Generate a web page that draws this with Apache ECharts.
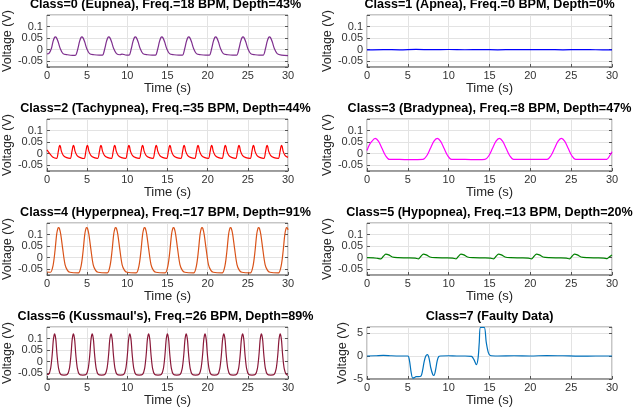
<!DOCTYPE html>
<html>
<head>
<meta charset="utf-8">
<script src="https://cdn.jsdelivr.net/npm/echarts@6/dist/echarts.min.js"></script>
<style>
html,body{margin:0;padding:0;background:#fff;}
#chart{width:640px;height:412px;}
</style>
</head>
<body>
<div id="chart"></div>
<script>
// ---- Data ----
const titles = [
  "Class=0 (Eupnea), Freq.=18 BPM, Depth=43%",
  "Class=1 (Apnea), Freq.=0 BPM, Depth=0%",
  "Class=2 (Tachypnea), Freq.=35 BPM, Depth=44%",
  "Class=3 (Bradypnea), Freq.=8 BPM, Depth=47%",
  "Class=4 (Hyperpnea), Freq.=17 BPM, Depth=91%",
  "Class=5 (Hypopnea), Freq.=13 BPM, Depth=20%",
  "Class=6 (Kussmaul's), Freq.=26 BPM, Depth=89%",
  "Class=7 (Faulty Data)"
];
const xTicks = [0, 5, 10, 15, 20, 25, 30];
const yTicksSmall = [-0.05, 0, 0.05, 0.1];
const yTicksFaulty = [-5, 0, 5];
const xLabel = "Time (s)";
const yLabel = "Voltage (V)";

const eupnea = [[0,-0.018],[0.25,-0.016],[0.55,0.005],[0.75,0.035],[0.93,0.052],[1.05,0.055],[1.17,0.052],[1.4,0.033],[1.65,0.005],[2.0,-0.017],[2.55,-0.022],[3.2,-0.025],
 [3.55,-0.024],[3.85,0.005],[4.05,0.035],[4.23,0.052],[4.35,0.055],[4.47,0.052],[4.7,0.033],[4.95,0.005],[5.3,-0.017],[5.85,-0.022],[6.5,-0.024],
 [6.9,-0.024],[7.2,0.005],[7.4,0.035],[7.58,0.052],[7.7,0.055],[7.82,0.052],[8.05,0.033],[8.3,0.005],[8.65,-0.017],[9.1,-0.022],[9.35,-0.019],[9.75,-0.023],
 [10.2,-0.024],[10.5,0.005],[10.7,0.035],[10.88,0.052],[11.0,0.055],[11.12,0.052],[11.35,0.033],[11.6,0.005],[11.95,-0.017],[12.5,-0.022],[13.1,-0.024],
 [13.5,-0.024],[13.8,0.005],[14.0,0.035],[14.18,0.052],[14.3,0.055],[14.42,0.052],[14.65,0.033],[14.9,0.005],[15.25,-0.017],[15.8,-0.022],[16.4,-0.024],
 [16.85,-0.024],[17.15,0.005],[17.35,0.035],[17.53,0.052],[17.65,0.055],[17.77,0.052],[18.0,0.033],[18.25,0.005],[18.6,-0.017],[19.15,-0.022],[19.75,-0.024],
 [20.2,-0.024],[20.5,0.005],[20.7,0.035],[20.88,0.052],[21.0,0.055],[21.12,0.052],[21.35,0.033],[21.6,0.005],[21.95,-0.017],[22.5,-0.022],[23.1,-0.024],
 [23.6,-0.024],[23.9,0.005],[24.1,0.035],[24.28,0.052],[24.4,0.055],[24.52,0.052],[24.75,0.033],[25.0,0.005],[25.35,-0.017],[25.9,-0.022],[26.4,-0.024],
 [26.9,-0.024],[27.2,0.005],[27.4,0.035],[27.58,0.052],[27.7,0.055],[27.82,0.052],[28.05,0.033],[28.3,0.005],[28.65,-0.017],[29.2,-0.024],[30,-0.026]];

const apnea = [[0,-0.001],[2,0.0005],[4,-0.0005],[6,0.001],[8,0],[10,0.0008],[12,-0.0004],[14,0.0006],[16,-0.0008],[18,0.0004],[20,0],[22,0.0006],[24,-0.0006],[26,0.0005],[28,-0.0004],[30,-0.001]];

const tachypnea = [[0,0.016],[0.3,0.002],[0.7,-0.014],[1.2,-0.02],
 [1.4,0.008],[1.52,0.03],[1.6,0.036],[1.68,0.03],[1.8,0.01],[2.05,-0.008],[2.45,-0.017],[2.9,-0.02],
 [3.1,0.008],[3.22,0.03],[3.3,0.036],[3.38,0.03],[3.5,0.01],[3.75,-0.008],[4.15,-0.017],[4.63,-0.021],
 [4.83,0.008],[4.95,0.03],[5.03,0.036],[5.11,0.03],[5.23,0.01],[5.48,-0.008],[5.88,-0.017],[6.32,-0.02],
 [6.52,0.008],[6.64,0.03],[6.72,0.036],[6.8,0.03],[6.92,0.01],[7.17,-0.008],[7.57,-0.017],[8.03,-0.02],
 [8.23,0.008],[8.35,0.03],[8.43,0.036],[8.51,0.03],[8.63,0.01],[8.88,-0.008],[9.28,-0.017],[9.8,-0.02],
 [10.0,0.008],[10.12,0.03],[10.2,0.036],[10.28,0.03],[10.4,0.01],[10.65,-0.008],[11.05,-0.017],[11.5,-0.02],
 [11.7,0.008],[11.82,0.03],[11.9,0.036],[11.98,0.03],[12.1,0.01],[12.35,-0.008],[12.75,-0.017],[13.2,-0.02],
 [13.4,0.008],[13.52,0.03],[13.6,0.036],[13.68,0.03],[13.8,0.01],[14.05,-0.008],[14.45,-0.017],[14.9,-0.02],
 [15.1,0.008],[15.22,0.03],[15.3,0.036],[15.38,0.03],[15.5,0.01],[15.75,-0.008],[16.15,-0.017],[16.67,-0.02],
 [16.87,0.008],[16.99,0.03],[17.07,0.036],[17.15,0.03],[17.27,0.01],[17.52,-0.008],[17.92,-0.017],[18.4,-0.02],
 [18.6,0.008],[18.72,0.03],[18.8,0.036],[18.88,0.03],[19.0,0.01],[19.25,-0.008],[19.65,-0.017],[20.1,-0.02],
 [20.3,0.008],[20.42,0.03],[20.5,0.036],[20.58,0.03],[20.7,0.01],[20.95,-0.008],[21.35,-0.017],[21.8,-0.02],
 [22.0,0.008],[22.12,0.03],[22.2,0.036],[22.28,0.03],[22.4,0.01],[22.65,-0.008],[23.05,-0.017],[23.5,-0.02],
 [23.7,0.008],[23.82,0.03],[23.9,0.036],[23.98,0.03],[24.1,0.01],[24.35,-0.008],[24.75,-0.017],[25.3,-0.02],
 [25.5,0.008],[25.62,0.03],[25.7,0.036],[25.78,0.03],[25.9,0.01],[26.15,-0.008],[26.55,-0.017],[27.0,-0.02],
 [27.2,0.008],[27.32,0.03],[27.4,0.036],[27.48,0.03],[27.6,0.01],[27.85,-0.008],[28.25,-0.017],[28.8,-0.02],
 [29.0,0.008],[29.12,0.03],[29.2,0.036],[29.28,0.03],[29.4,0.01],[29.65,-0.008],[30,-0.016]];

const bradypnea = [[0,0.014],[0.25,0.035],[0.58,0.053],[1.0,0.066],[1.42,0.053],[1.85,0.022],[2.3,-0.01],[2.75,-0.025],[4.0,-0.025],[5.2,-0.026],[6.85,-0.025],
 [7.3,-0.01],[7.75,0.022],[8.18,0.053],[8.6,0.066],[9.02,0.053],[9.45,0.022],[9.9,-0.01],[10.35,-0.025],[12.0,-0.025],[13.5,-0.026],[14.45,-0.025],
 [14.9,-0.01],[15.35,0.022],[15.78,0.053],[16.2,0.066],[16.62,0.053],[17.05,0.022],[17.5,-0.01],[17.95,-0.025],[20.0,-0.025],[22.05,-0.025],
 [22.5,-0.01],[22.95,0.022],[23.38,0.053],[23.8,0.066],[24.22,0.053],[24.65,0.022],[25.1,-0.01],[25.55,-0.025],[27.5,-0.025],[29.35,-0.025],[29.7,-0.01],[30,0.008]];

const hyperpnea = [[0,-0.062],[0.45,-0.063],[0.75,-0.035],[1.0,0.03],[1.2,0.1],[1.35,0.126],[1.45,0.13],[1.55,0.126],[1.72,0.1],[1.95,0.04],[2.25,-0.03],[2.55,-0.055],[2.85,-0.063],[3.9,-0.066],
 [4.25,-0.035],[4.5,0.03],[4.7,0.1],[4.85,0.126],[4.95,0.13],[5.05,0.126],[5.22,0.1],[5.45,0.04],[5.75,-0.03],[6.05,-0.055],[6.35,-0.063],[7.5,-0.066],
 [7.85,-0.035],[8.1,0.03],[8.3,0.1],[8.45,0.126],[8.55,0.13],[8.65,0.126],[8.82,0.1],[9.05,0.04],[9.35,-0.03],[9.65,-0.055],[9.95,-0.063],[11.1,-0.066],
 [11.45,-0.035],[11.7,0.03],[11.9,0.1],[12.05,0.126],[12.15,0.13],[12.25,0.126],[12.42,0.1],[12.65,0.04],[12.95,-0.03],[13.25,-0.055],[13.55,-0.063],[14.7,-0.066],
 [15.05,-0.035],[15.3,0.03],[15.5,0.1],[15.65,0.126],[15.75,0.13],[15.85,0.126],[16.02,0.1],[16.25,0.04],[16.55,-0.03],[16.85,-0.055],[17.15,-0.063],[18.25,-0.066],
 [18.6,-0.035],[18.85,0.03],[19.05,0.1],[19.2,0.126],[19.3,0.13],[19.4,0.126],[19.57,0.1],[19.8,0.04],[20.1,-0.03],[20.4,-0.055],[20.7,-0.063],[21.8,-0.066],
 [22.15,-0.035],[22.4,0.03],[22.6,0.1],[22.75,0.126],[22.85,0.13],[22.95,0.126],[23.12,0.1],[23.35,0.04],[23.65,-0.03],[23.95,-0.055],[24.25,-0.063],[25.3,-0.066],
 [25.65,-0.035],[25.9,0.03],[26.1,0.1],[26.25,0.126],[26.35,0.13],[26.45,0.126],[26.62,0.1],[26.85,0.04],[27.15,-0.03],[27.45,-0.055],[27.75,-0.063],[28.8,-0.066],
 [29.15,-0.035],[29.4,0.03],[29.6,0.1],[29.75,0.126],[29.85,0.13],[29.95,0.126],[30,0.12]];

const hypopnea = [[0,0.0],[0.8,-0.001],[1.3,-0.003],[1.7,-0.005],[2.0,0.006],[2.3,0.015],[2.65,0.012],[3.1,0.003],[3.8,0.0],[4.8,-0.001],[5.9,-0.002],
 [6.3,-0.005],[6.6,0.006],[6.9,0.015],[7.25,0.012],[7.7,0.003],[8.4,0.0],[9.6,-0.001],[10.5,-0.002],
 [10.9,-0.005],[11.2,0.006],[11.5,0.015],[11.85,0.012],[12.3,0.003],[13.0,0.0],[14.2,-0.001],[15.1,-0.002],
 [15.5,-0.005],[15.8,0.006],[16.1,0.015],[16.45,0.012],[16.9,0.003],[17.6,0.0],[18.8,-0.001],[19.75,-0.002],
 [20.15,-0.005],[20.45,0.006],[20.75,0.015],[21.1,0.012],[21.55,0.003],[22.3,0.0],[23.5,-0.001],[24.4,-0.002],
 [24.8,-0.005],[25.1,0.006],[25.4,0.015],[25.75,0.012],[26.2,0.003],[27.0,0.0],[28.2,-0.001],[29.0,-0.002],
 [29.4,-0.004],[29.7,0.004],[30,0.012]];

const kussmaul = [[0,-0.056],[0.2,-0.055],[0.45,-0.03],[0.65,0.03],[0.78,0.09],[0.88,0.114],[0.95,0.12],[1.02,0.114],[1.12,0.09],[1.25,0.03],[1.45,-0.03],[1.7,-0.055],[2.12,-0.058],
 [2.54,-0.055],[2.79,-0.03],[2.99,0.03],[3.12,0.09],[3.22,0.114],[3.29,0.12],[3.36,0.114],[3.46,0.09],[3.59,0.03],[3.79,-0.03],[4.04,-0.055],[4.46,-0.058],
 [4.88,-0.055],[5.13,-0.03],[5.33,0.03],[5.46,0.09],[5.56,0.114],[5.63,0.12],[5.7,0.114],[5.8,0.09],[5.93,0.03],[6.13,-0.03],[6.38,-0.055],[6.8,-0.058],
 [7.22,-0.055],[7.47,-0.03],[7.67,0.03],[7.8,0.09],[7.9,0.114],[7.97,0.12],[8.04,0.114],[8.14,0.09],[8.27,0.03],[8.47,-0.03],[8.72,-0.055],[9.14,-0.058],
 [9.56,-0.055],[9.81,-0.03],[10.01,0.03],[10.14,0.09],[10.24,0.114],[10.31,0.12],[10.38,0.114],[10.48,0.09],[10.61,0.03],[10.81,-0.03],[11.06,-0.055],[11.48,-0.058],
 [11.9,-0.055],[12.15,-0.03],[12.35,0.03],[12.48,0.09],[12.58,0.114],[12.65,0.12],[12.72,0.114],[12.82,0.09],[12.95,0.03],[13.15,-0.03],[13.4,-0.055],[13.82,-0.058],
 [14.24,-0.055],[14.49,-0.03],[14.69,0.03],[14.82,0.09],[14.92,0.114],[14.99,0.12],[15.06,0.114],[15.16,0.09],[15.29,0.03],[15.49,-0.03],[15.74,-0.055],[16.16,-0.058],
 [16.58,-0.055],[16.83,-0.03],[17.03,0.03],[17.16,0.09],[17.26,0.114],[17.33,0.12],[17.4,0.114],[17.5,0.09],[17.63,0.03],[17.83,-0.03],[18.08,-0.055],[18.5,-0.058],
 [18.92,-0.055],[19.17,-0.03],[19.37,0.03],[19.5,0.09],[19.6,0.114],[19.67,0.12],[19.74,0.114],[19.84,0.09],[19.97,0.03],[20.17,-0.03],[20.42,-0.055],[20.84,-0.058],
 [21.26,-0.055],[21.51,-0.03],[21.71,0.03],[21.84,0.09],[21.94,0.114],[22.01,0.12],[22.08,0.114],[22.18,0.09],[22.31,0.03],[22.51,-0.03],[22.76,-0.055],[23.18,-0.058],
 [23.6,-0.055],[23.85,-0.03],[24.05,0.03],[24.18,0.09],[24.28,0.114],[24.35,0.12],[24.42,0.114],[24.52,0.09],[24.65,0.03],[24.85,-0.03],[25.1,-0.055],[25.52,-0.058],
 [25.94,-0.055],[26.19,-0.03],[26.39,0.03],[26.52,0.09],[26.62,0.114],[26.69,0.12],[26.76,0.114],[26.86,0.09],[26.99,0.03],[27.19,-0.03],[27.44,-0.055],[27.86,-0.058],
 [28.28,-0.055],[28.53,-0.03],[28.73,0.03],[28.86,0.09],[28.96,0.114],[29.03,0.12],[29.1,0.114],[29.2,0.09],[29.33,0.03],[29.53,-0.03],[29.78,-0.055],[30,-0.058]];

const faulty = [[0,0.0],[1,0.05],[2,0.15],[3,0.05],[4,0.0],[5.0,0.0],[5.2,-1.0],[5.4,-3.5],[5.6,-4.8],[5.8,-4.7],[6.0,-4.5],[6.3,-4.5],[6.6,-4.4],
 [6.8,-3.2],[7.0,-1.2],[7.2,0.0],[7.4,0.3],[7.6,-0.5],[7.8,-2.5],[8.05,-4.0],[8.2,-4.2],[8.4,-3.0],[8.6,-1.0],[8.8,-0.1],[9.0,0.0],
 [10,0.05],[11,0.0],[12,0.0],[12.8,-0.1],[13.1,-0.8],[13.4,-1.9],[13.6,-0.5],[13.75,3.0],[13.9,6.2],[14.35,6.2],[14.6,3.0],[14.85,0.8],[15.1,0.1],
 [16,0.0],[18,0.05],[20,0.0],[22,0.1],[24,0.05],[26,-0.05],[28,0.0],[30,0.0]];

const seriesData = [eupnea, apnea, tachypnea, bradypnea, hyperpnea, hypopnea, kussmaul, faulty];
const colors = ['#7E2F8E', '#0000FF', '#FF0000', '#FF00FF', '#D95319', '#008000', '#8A1A3A', '#0072BD'];

// ---- Layout ----
const FONT = '"Liberation Sans", Arial, sans-serif';
const colLeft = [43, 367];
const rowTop = [15, 119, 223, 327];
const W = 245, H = 52;

const grid = [], xAxis = [], yAxis = [], series = [], title = [];
const near = (v, arr) => arr.some(a => Math.abs(a - v) < 1e-9);

seriesData.forEach((data, i) => {
  const col = i % 2, row = Math.floor(i / 2);
  const faultyPlot = i === 7;
  const yTicks = faultyPlot ? yTicksFaulty : yTicksSmall;
  grid.push({left: colLeft[col], top: rowTop[row], width: W, height: H,
    show: true, borderColor: '#8c8c8c', borderWidth: 1, backgroundColor: '#fff'});
  title.push({text: titles[i], left: colLeft[col] + W / 2, top: rowTop[row] - 17, textAlign: 'center', padding: 0,
    textStyle: {fontSize: 12.6, fontWeight: 'bold', color: '#000', fontFamily: FONT}});
  xAxis.push({gridIndex: i, type: 'value', min: xTicks[0], max: xTicks[xTicks.length - 1], interval: 5,
    name: xLabel, nameLocation: 'middle', nameGap: 15,
    nameTextStyle: {fontSize: 13, color: '#262626', fontFamily: FONT},
    axisLine: {show: true, onZero: false, lineStyle: {color: '#8c8c8c', width: 1.5}},
    axisTick: {show: true, inside: true, length: 3, lineStyle: {color: '#555'}},
    axisLabel: {margin: 3, fontSize: 11, color: '#333', fontFamily: FONT,
      formatter: v => near(v, xTicks) ? String(v) : ''},
    splitLine: {show: true, lineStyle: {color: '#e3e3e3', width: 1}}});
  const yBase = faultyPlot ? {min: -5, max: 6.3, interval: 5} : {min: -0.075, max: 0.15, splitNumber: 5};
  yAxis.push(Object.assign({gridIndex: i, type: 'value', position: 'left',
    name: yLabel, nameLocation: 'middle', nameGap: faultyPlot ? 18 : 29,
    nameTextStyle: {fontSize: 12.5, color: '#262626', fontFamily: FONT},
    axisLine: {show: false},
    axisTick: {show: true, inside: true, length: 3, lineStyle: {color: '#555'}},
    axisLabel: {margin: 4, fontSize: 11, color: '#333', fontFamily: FONT,
      formatter: v => near(v, yTicks) ? String(v) : ''},
    splitLine: {show: true, lineStyle: {color: '#e3e3e3', width: 1}}}, yBase));
  yAxis.push(Object.assign({gridIndex: i, type: 'value', position: 'right',
    axisLine: {show: false},
    axisTick: {show: true, inside: true, length: 3, lineStyle: {color: '#555'}},
    axisLabel: {show: false}, splitLine: {show: false}}, yBase));
  series.push({type: 'line', xAxisIndex: i, yAxisIndex: 2 * i, data: data,
    symbol: 'none', showSymbol: false, smooth: 0.3, clip: true,
    lineStyle: {color: colors[i], width: 1.2}});
});

const chart = echarts.init(document.getElementById('chart'), null, {renderer: 'canvas'});
chart.setOption({backgroundColor: '#fff', animation: false, title, grid, xAxis, yAxis, series});
</script>
</body>
</html>
